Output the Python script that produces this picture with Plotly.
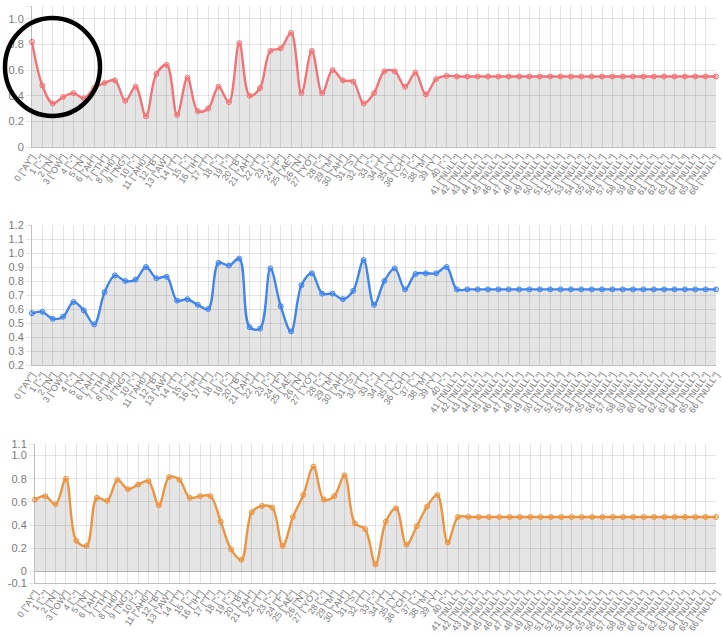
"""phoneme-wise score curves (3 panels)"""
import plotly.graph_objects as go
from plotly.subplots import make_subplots

# x categories: index + phoneme
phones = [
    "AY", "-", "N", "OW", "-", "N", "AH", "TH", "IH0", "NG", "-", "AH0", "B", "AW",
    "T", "-", "IH", "T", "-", "-", "B", "AH", "T", "-", "F", "AE", "N", "YO", "-",
    "M", "AH", "S", "T", "-", "T", "Y", "CH", "-", "M", "Y", "-",
    "NULL", "NULL", "NULL", "NULL", "NULL", "NULL", "NULL", "NULL", "NULL", "NULL",
    "NULL", "NULL", "NULL", "NULL", "NULL", "NULL", "NULL", "NULL", "NULL", "NULL",
    "NULL", "NULL", "NULL", "NULL", "NULL", "NULL",
]
idx = list(range(len(phones)))
tick_labels = [f'{i} ["{p}"]' for i, p in zip(idx, phones)]

red_vals = [
    0.82, 0.48, 0.34, 0.39, 0.42, 0.38, 0.46, 0.50, 0.52, 0.36, 0.47, 0.24, 0.57, 0.64,
    0.25, 0.54, 0.28, 0.30, 0.47, 0.35, 0.81, 0.40, 0.46, 0.75, 0.77, 0.89, 0.42, 0.75,
    0.42, 0.60, 0.52, 0.51, 0.34, 0.42, 0.59, 0.59, 0.47, 0.58, 0.41, 0.53, 0.555,
    0.55, 0.55, 0.55, 0.55, 0.55, 0.55, 0.55, 0.55, 0.55, 0.55, 0.55, 0.55, 0.55,
    0.55, 0.55, 0.55, 0.55, 0.55, 0.55, 0.55, 0.55, 0.55, 0.55, 0.55, 0.55, 0.55,
]
blue_vals = [
    0.57, 0.58, 0.53, 0.545, 0.65, 0.59, 0.49, 0.72, 0.84, 0.80, 0.81, 0.90, 0.82, 0.83,
    0.66, 0.67, 0.63, 0.60, 0.93, 0.91, 0.96, 0.47, 0.46, 0.89, 0.62, 0.44, 0.77, 0.855,
    0.71, 0.71, 0.67, 0.73, 0.95, 0.63, 0.80, 0.89, 0.74, 0.85, 0.855, 0.855, 0.90,
    0.74, 0.74, 0.74, 0.74, 0.74, 0.74, 0.74, 0.74, 0.74, 0.74, 0.74, 0.74, 0.74,
    0.74, 0.74, 0.74, 0.74, 0.74, 0.74, 0.74, 0.74, 0.74, 0.74, 0.74, 0.74, 0.74,
]
orange_vals = [
    0.62, 0.65, 0.58, 0.80, 0.265, 0.22, 0.635, 0.61, 0.79, 0.71, 0.75, 0.78, 0.57, 0.815,
    0.79, 0.635, 0.65, 0.65, 0.43, 0.19, 0.10, 0.51, 0.565, 0.55, 0.22, 0.47, 0.66, 0.905,
    0.62, 0.65, 0.83, 0.415, 0.365, 0.06, 0.43, 0.545, 0.23, 0.39, 0.56, 0.66, 0.25,
    0.47, 0.47, 0.47, 0.47, 0.47, 0.47, 0.47, 0.47, 0.47, 0.47, 0.47, 0.47, 0.47,
    0.47, 0.47, 0.47, 0.47, 0.47, 0.47, 0.47, 0.47, 0.47, 0.47, 0.47, 0.47, 0.47,
]

# y ticks per panel
y1_ticks = [0, 0.2, 0.4, 0.6, 0.8, 1.0, 1.1]
y1_text = ["0", "0.2", "0.4", "0.6", "0.8", "1.0", "1.1"]
y2_ticks = [0.2, 0.3, 0.4, 0.5, 0.6, 0.7, 0.8, 0.9, 1.0, 1.1, 1.2]
y2_text = ["0.2", "0.3", "0.4", "0.5", "0.6", "0.7", "0.8", "0.9", "1.0", "1.1", "1.2"]
y3_ticks = [-0.1, 0, 0.2, 0.4, 0.6, 0.8, 1.0, 1.1]
y3_text = ["-0.1", "0", "0.2", "0.4", "0.6", "0.8", "1.0", "1.1"]

W, H = 722, 637
GRID = "rgba(0,0,0,0.1)"
TICK = "#7a7a7a"
FONT = "Liberation Sans"

panels = [
    (red_vals, "rgb(242,115,118)", "rgba(242,115,118,0.3)", [0, 1.1], y1_ticks, y1_text),
    (blue_vals, "rgb(64,133,235)", "rgba(64,133,235,0.3)", [0.2, 1.2], y2_ticks, y2_text),
    (orange_vals, "rgb(236,148,64)", "rgba(236,148,64,0.3)", [-0.1, 1.1], y3_ticks, y3_text),
]
# pixel boxes of the plot areas: (left, right, top, bottom)
boxes = [(32, 716, 6, 147), (32, 716, 225, 365), (35, 716, 444, 583)]

fig = make_subplots(rows=3, cols=1)

for r, ((vals, col, mcol, yr, tv, tt), (l, rt, t, b)) in enumerate(zip(panels, boxes), start=1):
    fig.add_trace(
        go.Scatter(
            x=idx,
            y=vals,
            mode="lines+markers",
            line=dict(color=col, width=2.4, shape="spline", smoothing=1.0),
            marker=dict(size=5, color=mcol, line=dict(color=col, width=1)),
            fill="tozeroy",
            fillcolor="rgba(0,0,0,0.1)",
            cliponaxis=False,
            showlegend=False,
        ),
        row=r,
        col=1,
    )
    fig.update_xaxes(
        domain=[l / W, rt / W],
        range=[0, len(idx) - 1],
        tickmode="array",
        tickvals=idx,
        ticktext=tick_labels,
        tickangle=-56,
        tickfont=dict(size=9, color=TICK, family=FONT),
        showgrid=True,
        gridcolor=GRID,
        ticks="",
        showline=True,
        linecolor="rgba(0,0,0,0.25)",
        zeroline=False,
        automargin=False,
        row=r,
        col=1,
    )
    fig.update_yaxes(
        domain=[1 - b / H, 1 - t / H],
        range=yr,
        tickmode="array",
        tickvals=tv,
        ticktext=tt,
        tickfont=dict(size=11, color=TICK, family=FONT),
        showgrid=True,
        gridcolor=GRID,
        ticks="outside",
        ticklen=5,
        tickcolor=GRID,
        showline=True,
        linecolor="rgba(0,0,0,0.25)",
        zeroline=(r == 3),
        zerolinecolor="rgba(0,0,0,0.25)",
        zerolinewidth=1,
        automargin=False,
        row=r,
        col=1,
    )

# black circle drawn over the first panel
fig.add_shape(
    type="circle",
    xref="paper",
    yref="paper",
    x0=5 / W,
    x1=100 / W,
    y0=1 - 116 / H,
    y1=1 - 18 / H,
    line=dict(color="black", width=4.5),
    layer="above",
)

fig.update_layout(
    width=W,
    height=H,
    margin=dict(l=0, r=0, t=0, b=0),
    paper_bgcolor="white",
    plot_bgcolor="white",
    font=dict(family=FONT),
)

# drop the browser's default page margin so the figure sits at the corner
fig.write_html(
    "out.html",
    config={"displayModeBar": False},
    post_script="document.body.style.margin='0';document.body.style.overflow='hidden';",
)
